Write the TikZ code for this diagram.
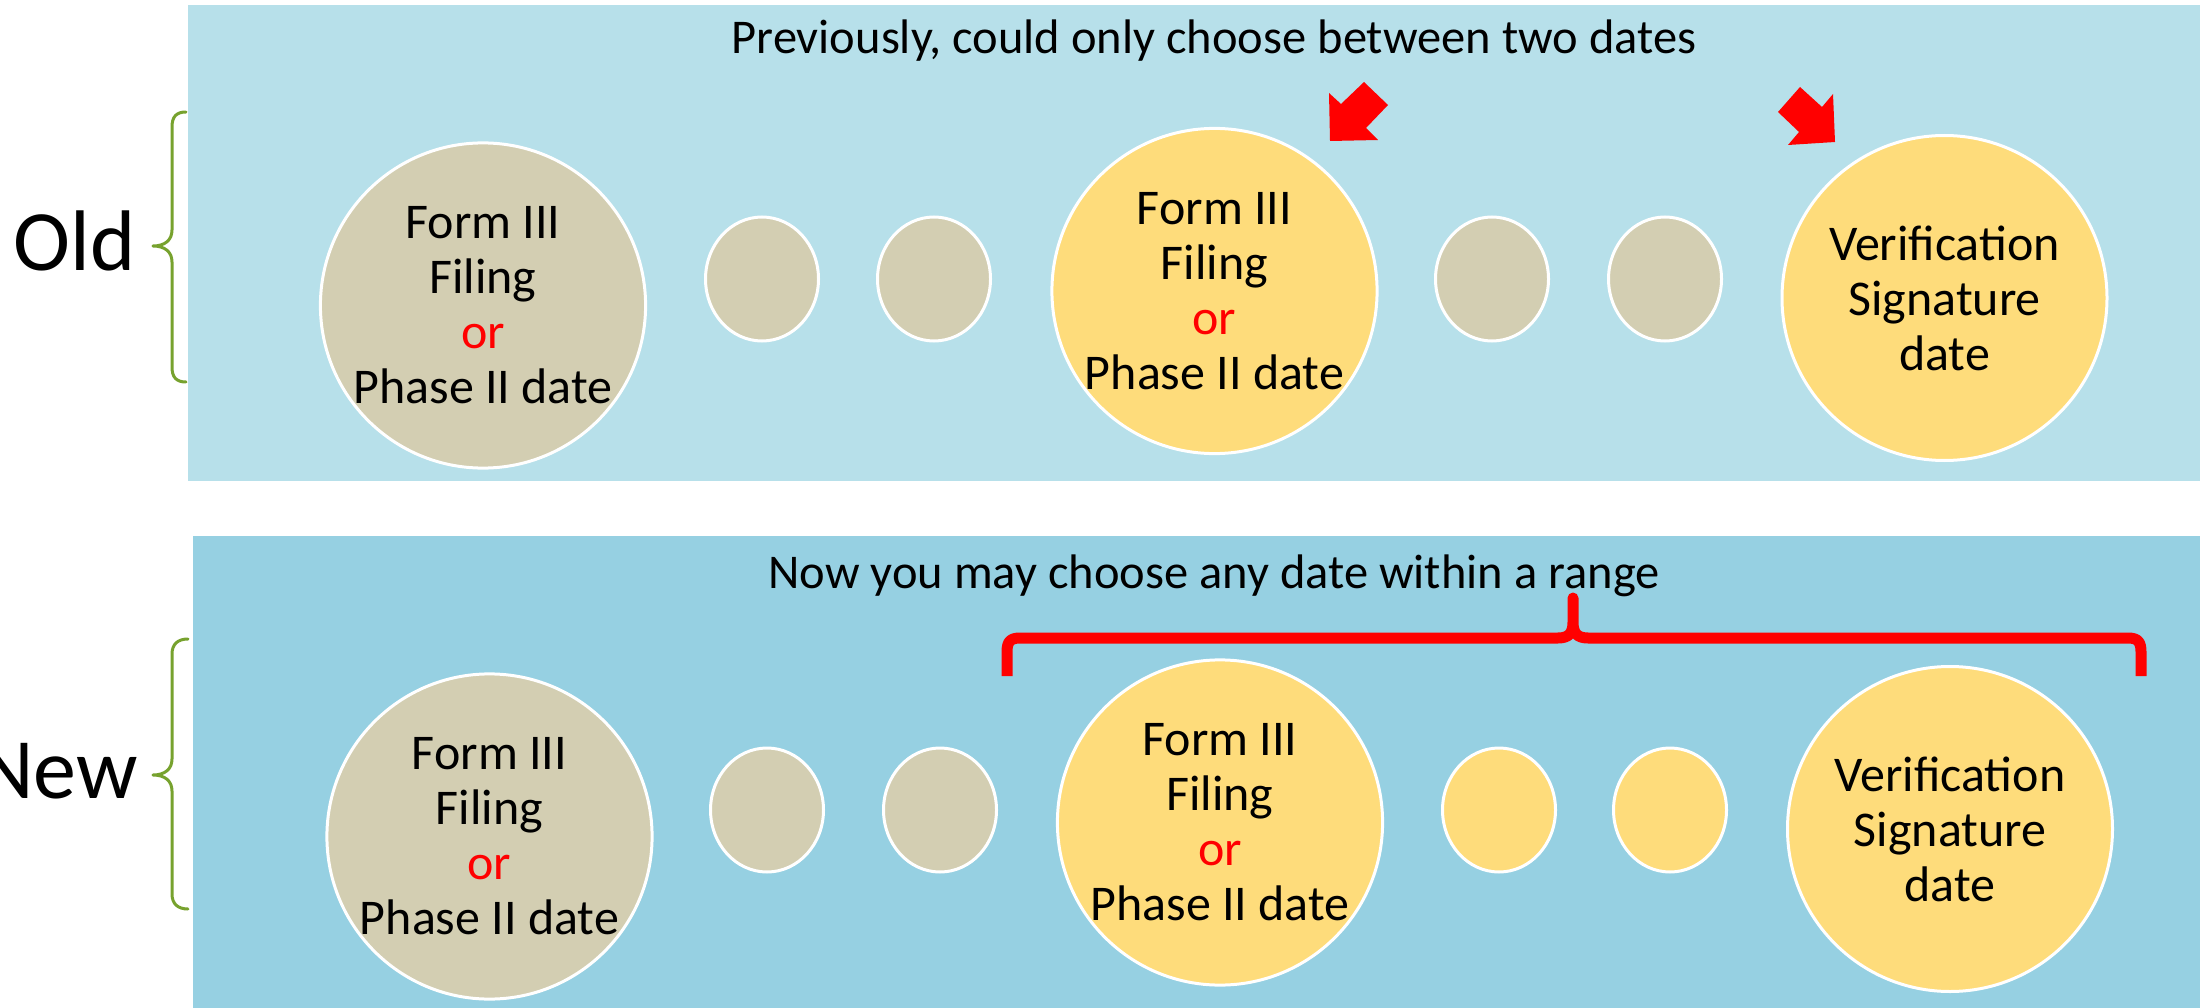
\documentclass[tikz,border=0pt]{standalone}
\usepackage{fontspec}
\setmainfont{Carlito}
\usetikzlibrary{shapes.geometric}

\definecolor{oldbg}{RGB}{183,224,234}
\definecolor{newbg}{RGB}{150,208,226}
\definecolor{tanfill}{RGB}{211,206,178}
\definecolor{goldfill}{RGB}{254,220,123}
\definecolor{bracegreen}{RGB}{119,162,46}
\definecolor{hotred}{RGB}{255,0,0}

\tikzset{
  bigdot/.style={circle, minimum size=325pt, inner sep=0pt, draw=white,
    line width=3pt, align=center, font=\fontsize{50}{55}\selectfont},
  smalldot/.style={ellipse, minimum width=113pt, minimum height=124pt,
    inner sep=0pt, draw=white, line width=3pt},
  tan/.style={fill=tanfill},
  gold/.style={fill=goldfill},
  heading/.style={anchor=base, inner sep=0pt, font=\fontsize{48.5}{58}\selectfont},
  rowlabel/.style={anchor=base east, inner sep=0pt, font=\fontsize{86}{100}\selectfont},
  sidebrace/.style={draw=bracegreen, line width=3pt, line cap=round, line join=round},
  rangebrace/.style={draw=hotred, line width=11pt, line join=round},
  pointer/.style={fill=hotred}
}

\newcommand{\formtext}{Form III\\Filing\\\textcolor{hotred}{or}\\Phase II date}
\newcommand{\signtext}{Verification\\Signature\\date}

\begin{document}
\begin{tikzpicture}[x=1pt, y=-1pt]
\useasboundingbox (0,0) rectangle (2200,1008);

% background bands
\fill[oldbg] (188,5) rectangle (2200,481);
\fill[newbg] (193,536) rectangle (2200,1008);

% headings
\node[heading] (hOld) at (1214,54) {Previously, could only choose between two dates};
\node[heading] (hNew) at (1214,588) {Now you may choose any date within a range};

% row labels and their braces
\node[rowlabel] (lOld) at (136,271) {Old};
\node[rowlabel] (lNew) at (138,798) {New};
\draw[sidebrace] (186,112) .. controls (176,112) and (172,117) .. (172,127)
  -- (172,230) .. controls (172,240) and (165,246) .. (153,246)
  .. controls (165,246) and (172,252) .. (172,262)
  -- (172,367) .. controls (172,377) and (176,382) .. (186,382);
\draw[sidebrace] (188,639) .. controls (178,639) and (172,644) .. (172,654)
  -- (172,759) .. controls (172,769) and (165,775) .. (153,775)
  .. controls (165,775) and (172,781) .. (172,791)
  -- (172,894) .. controls (172,904) and (178,909) .. (188,909);

% old timeline
\node[bigdot, tan]  (o1) at (483,305.5) {\formtext};
\node[smalldot, tan] (o2) at (762,279) {};
\node[smalldot, tan] (o3) at (934,279) {};
\node[bigdot, gold] (o4) at (1214.5,291) {\formtext};
\node[smalldot, tan] (o5) at (1492,279) {};
\node[smalldot, tan] (o6) at (1665,279) {};
\node[bigdot, gold] (o7) at (1944.5,298) {\signtext};

% pointers to the two permitted dates
\fill[pointer] (1330,141) -- (1329,93) -- (1341,104) -- (1364,82) -- (1388,105)
  -- (1366,128) -- (1378,140) -- cycle;
\fill[pointer] (1835,142) -- (1833,94) -- (1822,107) -- (1800,87) -- (1778,112)
  -- (1799,132) -- (1788,145) -- cycle;

% new timeline
\node[bigdot, tan]  (n1) at (489.5,836.5) {\formtext};
\node[smalldot, tan] (n2) at (767,810) {};
\node[smalldot, tan] (n3) at (940,810) {};
\node[bigdot, gold] (n4) at (1220,822.5) {\formtext};
\node[smalldot, gold] (n5) at (1499,810) {};
\node[smalldot, gold] (n6) at (1670,810) {};
\node[bigdot, gold] (n7) at (1950,829) {\signtext};

% brace spanning the selectable range
\draw[rangebrace] (1007,676) -- (1007,652) .. controls (1007,642) and (1010,638) .. (1020,638)
  -- (1558,638) .. controls (1569,638) and (1573,633) .. (1573,622) -- (1573,598)
  -- (1573,622) .. controls (1573,633) and (1577,638) .. (1588,638)
  -- (2128,638) .. controls (2138,638) and (2141,642) .. (2141,652) -- (2141,676);
\end{tikzpicture}
\end{document}
